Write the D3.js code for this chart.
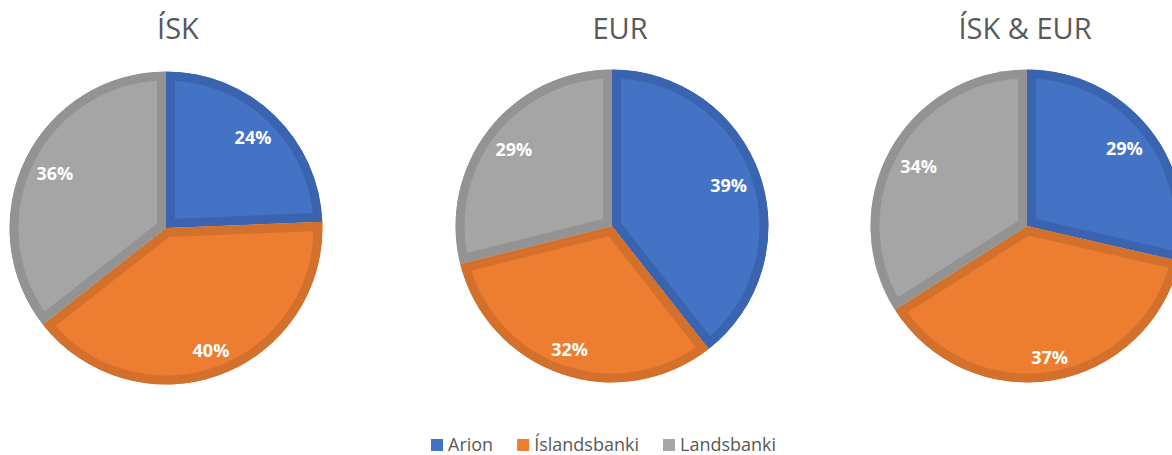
<!DOCTYPE html>
<html>
<head>
<meta charset="utf-8">
<script src="https://cdn.jsdelivr.net/npm/d3@7"></script>
<style>
  body { margin: 0; background: #fff; }
  svg { display: block; }
</style>
</head>
<body>
<svg id="chart" width="1172" height="455"></svg>
<script>
// data
var banks = ["Arion", "Íslandsbanki", "Landsbanki"];
var titles = ["ÍSK", "EUR", "ÍSK & EUR"];
var iskShares = [24.4, 40.1, 35.6];
var eurShares = [39.4, 31.7, 28.9];
var bothShares = [28.6, 37.4, 34.0];

var fills = ["#4472C4", "#ED7D31", "#A5A5A5"];
var borders = ["#3A64AF", "#D2702C", "#939393"];

var svg = d3.select('#chart');
var width = +svg.attr('width');
var height = +svg.attr('height');

var radius = 156.5;
var borderW = 9;
// layout of the three pies (centre + title centre)
var panels = [
  { cx: 166, cy: 228, tx: 178, values: iskShares },
  { cx: 612, cy: 226, tx: 620, values: eurShares },
  { cx: 1027, cy: 226, tx: 1025, values: bothShares }
];

var color = d3.scaleOrdinal().domain(banks).range(fills);
var stroke = d3.scaleOrdinal().domain(banks).range(borders);

var pie = d3.pie().sort(null).value(function(d) { return d.value; });
var arc = d3.arc().innerRadius(0).outerRadius(radius);
var pct = d3.format(".0%");
var defs = svg.append('defs');

panels.forEach(function(p, i) {
  var rows = banks.map(function(b, j) { return { bank: b, value: p.values[j] }; });
  var total = d3.sum(rows, function(d) { return d.value; });
  var arcs = pie(rows);

  svg.append('text')
    .attr('x', p.tx)
    .attr('y', 39)
    .attr('text-anchor', 'middle')
    .style('font-family', '"Open Sans", sans-serif')
    .style('font-size', '29px')
    .style('fill', '#595959')
    .text(titles[i]);

  var g = svg.append('g').attr('transform', 'translate(' + p.cx + ',' + p.cy + ')');

  arcs.forEach(function(a, j) {
    var id = 'clip' + i + '_' + j;
    // clip path lives in the same (translated) user space as the slice
    defs.append('clipPath').attr('id', id)
      .append('path')
      .attr('d', arc(a));

    g.append('path')
      .attr('clip-path', 'url(#' + id + ')')
      .attr('d', arc(a))
      .attr('fill', color(a.data.bank))
      .attr('stroke', stroke(a.data.bank))
      .attr('stroke-width', borderW * 2)
      .attr('stroke-linejoin', 'miter');
  });

  // labels: pushed out along the bisector until the box reaches ~143px
  arcs.forEach(function(a) {
    var t = g.append('text')
      .attr('text-anchor', 'middle')
      .attr('dy', '0.36em')
      .style('font-family', '"Open Sans", sans-serif')
      .style('font-weight', 'bold')
      .style('font-size', '18px')
      .style('fill', '#fff')
      .text(pct(a.data.value / total));
    var w = t.node().getComputedTextLength();
    var mid = (a.startAngle + a.endAngle) / 2;
    var proj = Math.abs(Math.sin(mid)) * w / 2 + Math.abs(Math.cos(mid)) * 6.5;
    var dist = 143 - proj;
    t.attr('x', Math.sin(mid) * dist).attr('y', -Math.cos(mid) * dist);
  });
});

// legend
var legend = svg.append('g');
var lx = 431;
banks.forEach(function(b) {
  legend.append('rect')
    .attr('x', lx).attr('y', 439)
    .attr('width', 12).attr('height', 12)
    .attr('fill', color(b));
  var t = legend.append('text')
    .attr('x', lx + 17).attr('y', 451)
    .style('font-family', '"Open Sans", sans-serif')
    .style('font-size', '18px')
    .style('fill', '#595959')
    .text(b);
  lx += 17 + t.node().getComputedTextLength() + 24;
});
</script>
</body>
</html>
